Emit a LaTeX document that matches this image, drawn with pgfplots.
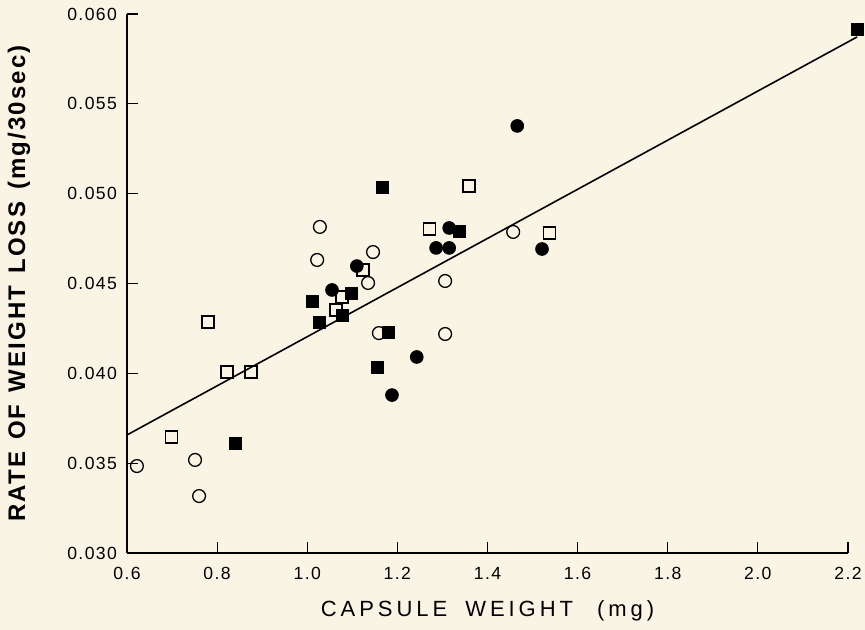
\documentclass[border=0pt]{standalone}
\usepackage{pgfplots}
\pgfplotsset{compat=1.18}
\usepackage{fontspec}
\setmainfont{Liberation Sans}
\newfontfamily\tickfont[LetterSpace=8]{Liberation Sans}
\newfontfamily\labfont[LetterSpace=18]{Liberation Sans}
\newfontfamily\ylabfont[LetterSpace=9]{Liberation Sans}
\definecolor{bg}{RGB}{250,244,228}
\begin{document}
\begin{tikzpicture}
\fill[bg, use as bounding box] (-63.5pt,-38.5pt) rectangle (369pt,276.5pt);
\begin{axis}[at={(0pt,0pt)}, anchor=south west, scale only axis,
  width=360.5pt, height=269.5pt,
  xmin=0.6, xmax=2.2, ymin=0.030, ymax=0.060,
  clip=false,
  axis x line*=bottom, axis y line*=left,
  axis line style={-, line width=0.7pt, black},
  tick align=inside, major tick length=5.5pt,
  tick style={line width=0.6pt, black},
  xtick={0.6,0.8,1.0,1.2,1.4,1.6,1.8,2.0,2.2},
  xticklabels={0.6,0.8,1.0,1.2,1.4,1.6,1.8,2.0,2.2},
  ytick={0.030,0.035,0.040,0.045,0.050,0.055,0.060},
  yticklabels={0.030,0.035,0.040,0.045,0.050,0.055,0.060},
  ticklabel style={font=\tickfont\fontsize{8.8}{10}\selectfont},
  /pgf/number format/assume math mode=true,
  xticklabel style={yshift=-3.5pt},
  yticklabel style={xshift=-1.5pt},
]
% regression line
\addplot[black, line width=0.8pt, mark=none] coordinates {(0.6,0.03657) (2.22,0.05872)};
% open circles
\addplot[only marks, mark=o, mark size=3.2pt, mark options={line width=0.65pt, black}] coordinates {
(0.622,0.03484) (0.751,0.03518) (0.760,0.03317) (1.028,0.04815) (1.022,0.04631)
(1.146,0.04675) (1.135,0.04503) (1.159,0.04224) (1.306,0.04514) (1.306,0.04219)
(1.457,0.04787)};
% open squares
\addplot[only marks, mark=square, mark size=3pt, mark options={line width=0.65pt, black}] coordinates {
(0.698,0.03646) (0.780,0.04286) (0.822,0.04007) (0.875,0.04007) (1.124,0.04575)
(1.077,0.04425) (1.064,0.04352) (1.272,0.04803) (1.359,0.05043) (1.537,0.04781)};
% filled squares
\addplot[only marks, mark=square*, mark size=3pt, mark options={black, fill=black}] coordinates {
(0.840,0.03612) (1.011,0.04403) (1.028,0.04286) (1.077,0.04325) (1.097,0.04447)
(1.166,0.05037) (1.181,0.04230) (1.155,0.04035) (1.337,0.04792) (2.22,0.05916)};
% filled circles
\addplot[only marks, mark=*, mark size=3.2pt, mark options={black, fill=black}] coordinates {
(1.055,0.04464) (1.110,0.04597) (1.243,0.04091) (1.188,0.03879) (1.286,0.04698)
(1.315,0.04698) (1.315,0.04809) (1.521,0.04692) (1.466,0.05377)};
\end{axis}
\node[rotate=90, font=\ylabfont\bfseries\fontsize{12}{14}\selectfont] at (-54pt,134.75pt)
  {RATE\hspace{6pt}OF\hspace{6pt}WEIGHT\hspace{6pt}LOSS\hspace{6pt}(mg/30sec)};
\node[font=\labfont\fontsize{11}{13}\selectfont] at (180.25pt,-29pt)
  {CAPSULE\hspace{9pt}WEIGHT\hspace{12pt}(mg)};
\end{tikzpicture}
\end{document}
